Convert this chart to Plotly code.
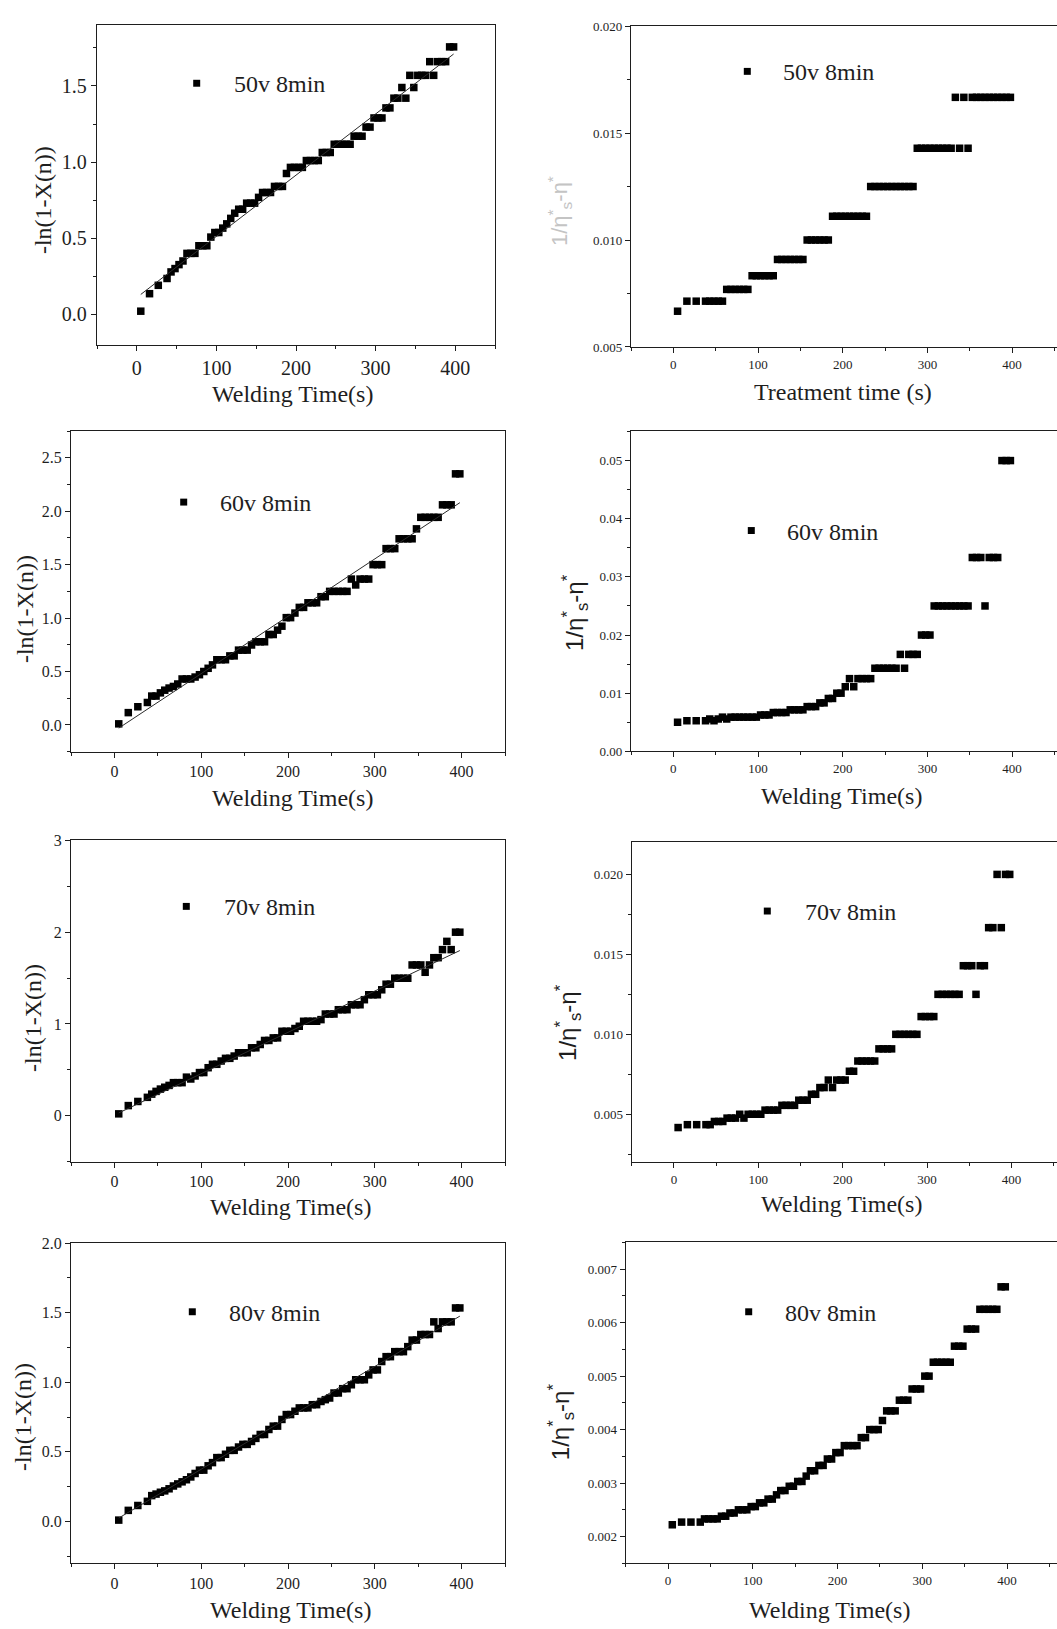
import plotly.graph_objects as go

# ---------------------------------------------------------------- data
welding_time = [
    5, 16, 27, 38, 43, 48, 53, 58, 63, 68,
    73, 78, 83, 88, 93, 98, 103, 108, 113, 118,
    123, 128, 133, 138, 143, 148, 153, 158, 163, 168,
    173, 178, 183, 188, 193, 198, 203, 208, 213, 218,
    223, 228, 233, 238, 243, 248, 253, 258, 263, 268,
    273, 278, 283, 288, 293, 298, 303, 308, 313, 318,
    323, 328, 333, 338, 343, 348, 353, 358, 363, 368,
    373, 378, 383, 388, 393, 398,
]

# -ln(1-X(n)) for each voltage
ln_50v = [
    0.02, 0.135, 0.19, 0.235, 0.278, 0.30, 0.326, 0.35, 0.40, 0.40,
    0.40, 0.45, 0.45, 0.45, 0.507, 0.537, 0.537, 0.566, 0.594, 0.63,
    0.664, 0.69, 0.69, 0.73, 0.73, 0.73, 0.768, 0.80, 0.80, 0.80,
    0.84, 0.84, 0.84, 0.925, 0.965, 0.965, 0.965, 0.965, 1.01, 1.01,
    1.01, 1.01, 1.063, 1.063, 1.063, 1.117, 1.117, 1.117, 1.117, 1.117,
    1.17, 1.17, 1.17, 1.23, 1.23, 1.29, 1.29, 1.29, 1.356, 1.356,
    1.42, 1.42, 1.49, 1.42, 1.57, 1.49, 1.57, 1.57, 1.57, 1.66,
    1.57, 1.66, 1.66, 1.66, 1.757, 1.757,
]
ln_60v = [
    0.01, 0.115, 0.17, 0.21, 0.27, 0.27, 0.30, 0.325, 0.345, 0.36,
    0.383, 0.43, 0.43, 0.43, 0.448, 0.47, 0.50, 0.53, 0.562, 0.61,
    0.61, 0.61, 0.646, 0.646, 0.70, 0.70, 0.70, 0.748, 0.778, 0.778,
    0.778, 0.846, 0.846, 0.887, 0.924, 1.004, 1.004, 1.047, 1.10, 1.10,
    1.143, 1.143, 1.143, 1.20, 1.20, 1.25, 1.25, 1.25, 1.25, 1.25,
    1.365, 1.31, 1.365, 1.365, 1.365, 1.50, 1.50, 1.50, 1.65, 1.65,
    1.65, 1.742, 1.742, 1.742, 1.742, 1.835, 1.943, 1.943, 1.943, 1.943,
    1.943, 2.06, 2.06, 2.06, 2.35, 2.35,
]
ln_70v = [
    0.02, 0.11, 0.155, 0.20, 0.235, 0.265, 0.29, 0.31, 0.33, 0.36,
    0.36, 0.36, 0.42, 0.40, 0.433, 0.47, 0.47, 0.523, 0.56, 0.56,
    0.596, 0.625, 0.625, 0.65, 0.686, 0.686, 0.686, 0.74, 0.74, 0.776,
    0.82, 0.82, 0.848, 0.848, 0.92, 0.92, 0.92, 0.95, 0.975, 1.029,
    1.029, 1.029, 1.029, 1.047, 1.108, 1.108, 1.108, 1.155, 1.155, 1.155,
    1.209, 1.209, 1.209, 1.264, 1.318, 1.318, 1.318, 1.372, 1.433, 1.433,
    1.498, 1.498, 1.498, 1.498, 1.643, 1.643, 1.643, 1.563, 1.643, 1.722,
    1.722, 1.81, 1.90, 1.81, 2.0, 2.0,
]
ln_80v = [
    0.01, 0.08, 0.115, 0.145, 0.186, 0.197, 0.21, 0.22, 0.235, 0.255,
    0.27, 0.285, 0.30, 0.32, 0.345, 0.369, 0.369, 0.40, 0.423, 0.459,
    0.459, 0.483, 0.511, 0.511, 0.535, 0.554, 0.554, 0.575, 0.597, 0.625,
    0.625, 0.661, 0.685, 0.685, 0.733, 0.768, 0.768, 0.792, 0.816, 0.816,
    0.816, 0.839, 0.839, 0.862, 0.875, 0.887, 0.923, 0.923, 0.954, 0.954,
    0.982, 1.018, 1.018, 1.018, 1.053, 1.089, 1.089, 1.149, 1.184, 1.184,
    1.22, 1.22, 1.22, 1.256, 1.303, 1.303, 1.343, 1.343, 1.343, 1.434,
    1.386, 1.434, 1.434, 1.434, 1.534, 1.534,
]

# 1/(eta*_s - eta*) for each voltage
inv_50v = [
    0.00667, 0.00714, 0.00714, 0.00714, 0.00714, 0.00714, 0.00714, 0.00714, 0.00769, 0.00769,
    0.00769, 0.00769, 0.00769, 0.00769, 0.00833, 0.00833, 0.00833, 0.00833, 0.00833, 0.00833,
    0.00909, 0.00909, 0.00909, 0.00909, 0.00909, 0.00909, 0.00909, 0.01, 0.01, 0.01,
    0.01, 0.01, 0.01, 0.01111, 0.01111, 0.01111, 0.01111, 0.01111, 0.01111, 0.01111,
    0.01111, 0.01111, 0.0125, 0.0125, 0.0125, 0.0125, 0.0125, 0.0125, 0.0125, 0.0125,
    0.0125, 0.0125, 0.0125, 0.01429, 0.01429, 0.01429, 0.01429, 0.01429, 0.01429, 0.01429,
    0.01429, 0.01429, 0.01667, 0.01429, 0.01667, 0.01429, 0.01667, 0.01667, 0.01667, 0.01667,
    0.01667, 0.01667, 0.01667, 0.01667, 0.01667, 0.01667,
]
inv_60v = [
    0.005, 0.00526, 0.00526, 0.00526, 0.00556, 0.00526, 0.00556, 0.00588, 0.00556, 0.00588,
    0.00588, 0.00588, 0.00588, 0.00588, 0.00588, 0.00588, 0.00625, 0.00625, 0.00625, 0.00667,
    0.00667, 0.00667, 0.00667, 0.00714, 0.00714, 0.00714, 0.00714, 0.00769, 0.00769, 0.00769,
    0.00833, 0.00833, 0.00909, 0.00909, 0.01, 0.01, 0.01111, 0.0125, 0.01111, 0.0125,
    0.0125, 0.0125, 0.0125, 0.01429, 0.01429, 0.01429, 0.01429, 0.01429, 0.01429, 0.01667,
    0.01429, 0.01667, 0.01667, 0.01667, 0.02, 0.02, 0.02, 0.025, 0.025, 0.025,
    0.025, 0.025, 0.025, 0.025, 0.025, 0.025, 0.03333, 0.03333, 0.03333, 0.025,
    0.03333, 0.03333, 0.03333, 0.05, 0.05, 0.05,
]
inv_70v = [
    0.00417, 0.00435, 0.00435, 0.00435, 0.00435, 0.00455, 0.00455, 0.00455, 0.00476, 0.00476,
    0.00476, 0.005, 0.00476, 0.005, 0.005, 0.005, 0.005, 0.00526, 0.00526, 0.00526,
    0.00526, 0.00556, 0.00556, 0.00556, 0.00556, 0.00588, 0.00588, 0.00588, 0.00625, 0.00625,
    0.00667, 0.00667, 0.00714, 0.00667, 0.00714, 0.00714, 0.00714, 0.00769, 0.00769, 0.00833,
    0.00833, 0.00833, 0.00833, 0.00833, 0.00909, 0.00909, 0.00909, 0.00909, 0.01, 0.01,
    0.01, 0.01, 0.01, 0.01, 0.01111, 0.01111, 0.01111, 0.01111, 0.0125, 0.0125,
    0.0125, 0.0125, 0.0125, 0.0125, 0.01429, 0.01429, 0.01429, 0.0125, 0.01429, 0.01429,
    0.01667, 0.01667, 0.02, 0.01667, 0.02, 0.02,
]
inv_80v = [
    0.00222, 0.00227, 0.00227, 0.00227, 0.00233, 0.00233, 0.00233, 0.00233, 0.00238, 0.00238,
    0.00244, 0.00244, 0.0025, 0.0025, 0.0025, 0.00256, 0.00256, 0.00263, 0.00263, 0.0027,
    0.0027, 0.00278, 0.00286, 0.00286, 0.00294, 0.00294, 0.00303, 0.00303, 0.00313, 0.00323,
    0.00323, 0.00333, 0.00333, 0.00345, 0.00345, 0.00357, 0.00357, 0.0037, 0.0037, 0.0037,
    0.0037, 0.00385, 0.00385, 0.004, 0.004, 0.004, 0.00417, 0.00435, 0.00435, 0.00435,
    0.00455, 0.00455, 0.00455, 0.00476, 0.00476, 0.00476, 0.005, 0.005, 0.00526, 0.00526,
    0.00526, 0.00526, 0.00526, 0.00556, 0.00556, 0.00556, 0.00588, 0.00588, 0.00588, 0.00625,
    0.00625, 0.00625, 0.00625, 0.00625, 0.00667, 0.00667,
]

# linear fits of -ln(1-X(n)) (end points)
fit_time = [5, 398]
fit_50v = [0.13, 1.71]
fit_60v = [-0.03, 2.08]
fit_70v = [0.03, 1.80]
fit_80v = [0.025, 1.475]

series_names = ["50v 8min", "60v 8min", "70v 8min", "80v 8min"]
x_tick_values = [0, 100, 200, 300, 400]

for arr in (ln_50v, ln_60v, ln_70v, ln_80v, inv_50v, inv_60v, inv_70v, inv_80v):
    assert len(arr) == len(welding_time)

# ---------------------------------------------------------------- layout helpers
W, H = 1057, 1629
SERIF = "Liberation Serif, Times New Roman, serif"
SANS = "Liberation Sans, Arial, sans-serif"
INK = "#1e1e1e"


def fx(px):
    return px / W


def fy(py):
    return 1 - py / H


ETA_TITLE = "1/η<sup>*</sup><sub>s</sub>-η<sup>*</sup>"
LN_TITLE = "-ln(1-X(n))"

panels = [
    # left column: -ln(1-X(n)) with fit line
    dict(y=ln_50v, fit=fit_50v, name=series_names[0], box=(97, 495, 17.3, 340),
         xr=[-50, 450], yr=[-0.2, 1.9], dy=0.5, my=0.25, fmt=".1f", tfs=20, full=True,
         xt=("Welding Time(s)", 292, 390), yt=(LN_TITLE, 43, 194),
         leg=(196.7, 76, 231.7)),
    dict(y=inv_50v, fit=None, name=series_names[0], box=(631, 1057, 18.3, 342.3),
         xr=[-50, 453], yr=[0.005, 0.020], dy=0.005, my=0.0025, fmt=".3f", tfs=13, full=False,
         xt=("Treatment time (s)", 842.5, 388), yt=None,
         leg=(747.3, 64, 781)),
    dict(y=ln_60v, fit=fit_60v, name=series_names[1], box=(71, 505, 427.3, 751),
         xr=[-50, 450], yr=[-0.25, 2.75], dy=0.5, my=0.25, fmt=".1f", tfs=16, full=True,
         xt=("Welding Time(s)", 292.7, 798), yt=(LN_TITLE, 25, 607),
         leg=(183.7, 499, 218.3)),
    dict(y=inv_60v, fit=None, name=series_names[1], box=(631, 1057, 427.7, 750.7),
         xr=[-50, 453], yr=[0, 0.055], dy=0.01, my=0.005, fmt=".2f", tfs=13, full=False,
         xt=("Welding Time(s)", 841.7, 796), yt=(ETA_TITLE, 575, 611),
         leg=(751.3, 527.7, 785)),
    dict(y=ln_70v, fit=fit_70v, name=series_names[2], box=(71, 505, 840.7, 1165),
         xr=[-50, 450], yr=[-0.5, 3], dy=1, my=0.5, fmt="d", tfs=16, full=True,
         xt=("Welding Time(s)", 290, 1211), yt=(LN_TITLE, 33, 1020),
         leg=(186.3, 907.3, 221.7)),
    dict(y=inv_70v, fit=None, name=series_names[2], box=(631.7, 1057, 842.7, 1165.7),
         xr=[-50, 454], yr=[0.002, 0.022], dy=0.005, my=0.0025, fmt=".3f", tfs=13, full=False,
         xt=("Welding Time(s)", 841.7, 1208), yt=(ETA_TITLE, 568, 1025),
         leg=(767.3, 912, 802.7)),
    dict(y=ln_80v, fit=fit_80v, name=series_names[3], box=(71, 505, 1247.3, 1570.7),
         xr=[-50, 450], yr=[-0.3, 2.0], dy=0.5, my=0.25, fmt=".1f", tfs=16, full=True,
         xt=("Welding Time(s)", 290, 1618), yt=(LN_TITLE, 23, 1423),
         leg=(192.3, 1316.7, 227.3)),
    dict(y=inv_80v, fit=None, name=series_names[3], box=(625.7, 1057, 1246.7, 1570.7),
         xr=[-50, 459], yr=[0.0015, 0.0075], dy=0.001, my=0.0005, fmt=".3f", tfs=13, full=False,
         xt=("Welding Time(s)", 829, 1618), yt=(ETA_TITLE, 561.7, 1427.5),
         leg=(748.7, 1316.7, 782.7)),
]

fig = go.Figure()
layout = dict(
    width=W, height=H,
    margin=dict(l=0, r=0, t=0, b=0),
    paper_bgcolor="white", plot_bgcolor="white",
    showlegend=False,
    font=dict(family=SERIF, size=16, color=INK),
)
annotations = []
shapes = []

for i, p in enumerate(panels, start=1):
    sfx = "" if i == 1 else str(i)
    xref, yref = "x" + sfx, "y" + sfx
    x0, x1, y0, y1 = p["box"]

    fig.add_trace(go.Scatter(
        x=welding_time, y=p["y"], mode="markers", name=p["name"],
        marker=dict(symbol="square", size=7.5, color="black", line=dict(width=0)),
        xaxis=xref, yaxis=yref, cliponaxis=False,
    ))
    if p["fit"] is not None:
        fig.add_trace(go.Scatter(
            x=fit_time, y=p["fit"], mode="lines", name=p["name"] + " fit",
            line=dict(color="#2a2a2a", width=1),
            xaxis=xref, yaxis=yref,
        ))

    tick_common = dict(
        showline=True, linecolor=INK, linewidth=1.3,
        ticks="outside", ticklen=5, tickwidth=1.2, tickcolor=INK,
        showgrid=False, zeroline=False,
        tickfont=dict(family=SERIF, size=p["tfs"], color=INK),
    )
    layout["xaxis" + sfx] = dict(
        tick_common, domain=[fx(x0), fx(x1)], range=p["xr"], anchor=yref,
        tickmode="array", tickvals=x_tick_values,
        minor=dict(ticks="outside", ticklen=3, tickwidth=1.2, tickcolor=INK, dtick=50, tick0=0),
        mirror=True,
    )
    layout["yaxis" + sfx] = dict(
        tick_common, domain=[fy(y1), fy(y0)], range=p["yr"], anchor=xref,
        tick0=0, dtick=p["dy"], tickformat=p["fmt"],
        minor=dict(ticks="outside", ticklen=3, tickwidth=1.2, tickcolor=INK, dtick=p["my"], tick0=0),
        mirror=p["full"],
    )

    # axis titles
    t, cx, cy = p["xt"]
    annotations.append(dict(text=t, x=fx(cx), y=fy(cy), xref="paper", yref="paper",
                            xanchor="center", yanchor="middle", showarrow=False,
                            font=dict(family=SERIF, size=24, color=INK)))
    if p["yt"] is not None:
        t, cx, cy = p["yt"]
        fam = SERIF if t == LN_TITLE else SANS
        annotations.append(dict(text=t, x=fx(cx), y=fy(cy), xref="paper", yref="paper",
                                xanchor="center", yanchor="middle", textangle=-90, showarrow=False,
                                font=dict(family=fam, size=24, color=INK)))

    # legend entry: marker + label
    mx, my_, tx = p["leg"]
    shapes.append(dict(type="rect", xref="paper", yref="paper",
                       x0=fx(mx - 3.5), x1=fx(mx + 3.5), y0=fy(my_ + 3.5), y1=fy(my_ - 3.5),
                       fillcolor="black", line=dict(width=0)))
    annotations.append(dict(text=p["name"], x=fx(tx), y=fy(my_ + 1), xref="paper", yref="paper",
                            xanchor="left", yanchor="middle", showarrow=False,
                            font=dict(family=SERIF, size=24, color=INK)))

# faded y title of the treatment-time panel
annotations.append(dict(text=ETA_TITLE, x=fx(560), y=fy(205), xref="paper", yref="paper",
                        xanchor="center", yanchor="middle", textangle=-90, showarrow=False,
                        font=dict(family=SANS, size=22, color="#c4c4c4")))

layout["annotations"] = annotations
layout["shapes"] = shapes
fig.update_layout(**layout)

fig.write_html("out.html")
